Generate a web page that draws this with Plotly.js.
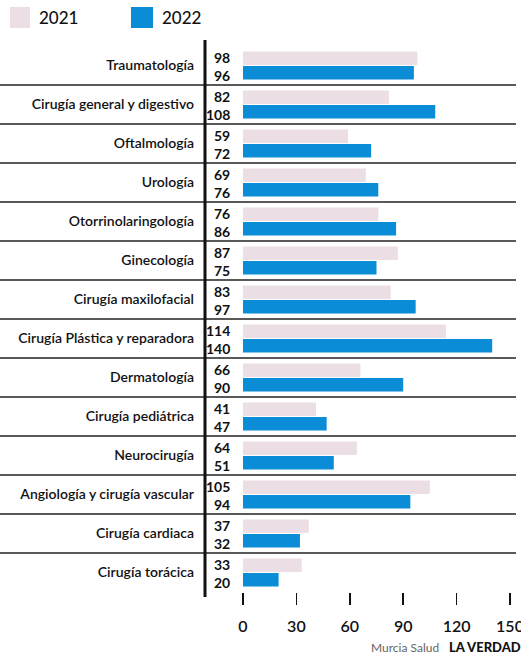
<!DOCTYPE html>
<html>
<head>
<meta charset="utf-8">
<script src="https://cdn.plot.ly/plotly-3.0.1.min.js"></script>
<style>html,body{margin:0;padding:0;background:#fff;}#chart{width:521px;height:657px;}</style>
</head>
<body>
<div id="chart"></div>
<script>
const categories = ["Traumatología","Cirugía general y digestivo","Oftalmología","Urología","Otorrinolaringología","Ginecología","Cirugía maxilofacial","Cirugía Plástica y reparadora","Dermatología","Cirugía pediátrica","Neurocirugía","Angiología y cirugía vascular","Cirugía cardiaca","Cirugía torácica"];
const values2021 = [98,82,59,69,76,87,83,114,66,41,64,105,37,33];
const values2022 = [96,108,72,76,86,75,97,140,90,47,51,94,32,20];
const xTicks = [0,30,60,90,120,150];
const seriesNames = ["2021","2022"];

const W = 521, H = 657;
const L = 243, R = 510, T = 45, B = 592;
const px = x => (x - L) / (R - L);
const py = y => (B - y) / (B - T);

const pink = "#ebdfe5", blue = "#0a8cd6";
const fontF = "Lato, 'Open Sans', sans-serif";

const traces = [
  {type:"bar", orientation:"h", name:seriesNames[0], y:categories, x:values2021, marker:{color:pink}, hoverinfo:"x"},
  {type:"bar", orientation:"h", name:seriesNames[1], y:categories, x:values2022, marker:{color:blue}, hoverinfo:"x"}
];

const shapes = [];
for (let i = 0; i < categories.length - 1; i++) {
  shapes.push({type:"line", xref:"paper", yref:"y", x0:px(0), x1:px(516), y0:i+0.5, y1:i+0.5, line:{color:"#222", width:1.5}});
}
shapes.push({type:"line", xref:"paper", yref:"paper", x0:px(205), x1:px(205), y0:py(40), y1:py(597), line:{color:"#111", width:3}});
// legend squares
shapes.push({type:"rect", xref:"paper", yref:"paper", x0:px(10), x1:px(30), y0:py(28), y1:py(7), fillcolor:pink, line:{width:0}});
shapes.push({type:"rect", xref:"paper", yref:"paper", x0:px(131), x1:px(153), y0:py(28), y1:py(7), fillcolor:blue, line:{width:0}});

const annotations = [];
categories.forEach((c, i) => {
  annotations.push({xref:"x", yref:"y", x:0, y:c, xanchor:"right", yanchor:"middle", xshift:-11, yshift:8, text:String(values2021[i]), showarrow:false, font:{family:fontF, size:14, weight:700, color:"#111"}});
  annotations.push({xref:"x", yref:"y", x:0, y:c, xanchor:"right", yanchor:"middle", xshift:-11, yshift:-10, text:String(values2022[i]), showarrow:false, font:{family:fontF, size:14, weight:700, color:"#111"}});
});
annotations.push({xref:"paper", yref:"paper", x:px(37), y:py(17), xanchor:"left", yanchor:"middle", text:seriesNames[0], showarrow:false, font:{family:fontF, size:17, weight:500, color:"#111"}});
annotations.push({xref:"paper", yref:"paper", x:px(160), y:py(17), xanchor:"left", yanchor:"middle", text:seriesNames[1], showarrow:false, font:{family:fontF, size:17, weight:500, color:"#111"}});
annotations.push({xref:"paper", yref:"paper", x:px(441), y:py(647), xanchor:"right", yanchor:"middle", text:"Murcia Salud", showarrow:false, font:{family:fontF, size:12, color:"#666"}});
annotations.push({xref:"paper", yref:"paper", x:px(447), y:py(647), xanchor:"left", yanchor:"middle", text:"LA VERDAD", showarrow:false, font:{family:fontF, size:13, weight:900, color:"#111"}});

const layout = {
  width:W, height:H,
  margin:{l:L, r:W-R, t:T, b:H-B, pad:0},
  paper_bgcolor:"#fff", plot_bgcolor:"#fff",
  barmode:"group", bargap:0.26, bargroupgap:0.06,
  showlegend:false,
  xaxis:{range:[0,150], tickvals:xTicks, ticktext:xTicks.map(String), ticks:"outside", ticklen:12, tickwidth:1.5, tickcolor:"#111", showgrid:false, zeroline:false, showline:false, fixedrange:true,
         ticklabeloverflow:"allow", ticklabelstandoff:8,
         tickfont:{family:fontF, size:16, weight:600, color:"#111"}},
  yaxis:{type:"category", autorange:"reversed", showgrid:false, zeroline:false, showline:false, ticks:"", ticklabelstandoff:48,
         tickfont:{family:fontF, size:14, weight:600, color:"#111"}, fixedrange:true},
  shapes:shapes, annotations:annotations
};
Plotly.newPlot("chart", traces, layout, {displayModeBar:false, staticPlot:true});
</script>
</body>
</html>
